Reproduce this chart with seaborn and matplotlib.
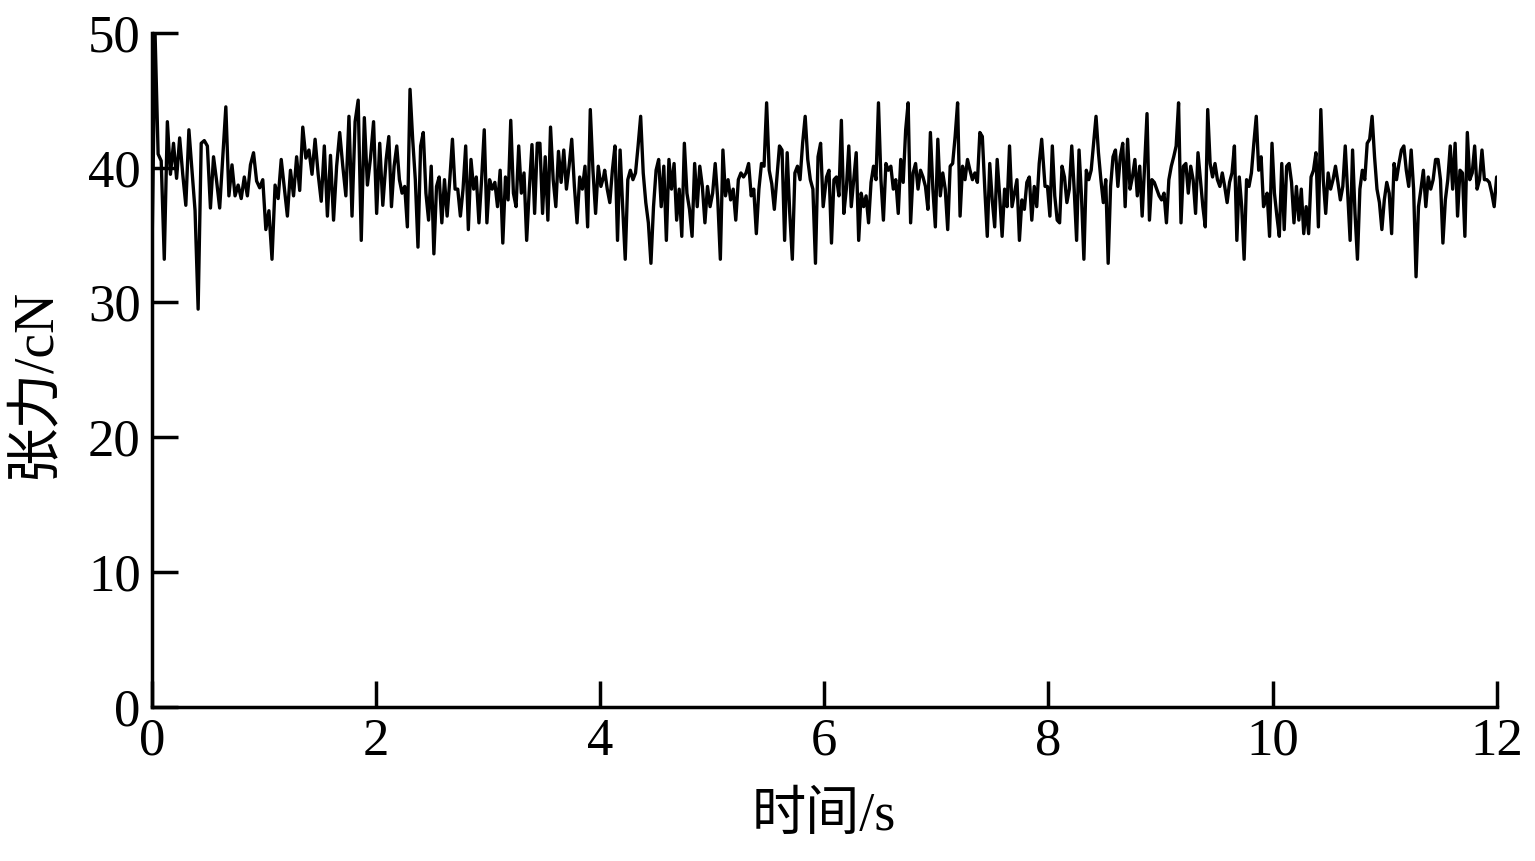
import numpy as np
import pandas as pd
import matplotlib
matplotlib.use("Agg")
import matplotlib.pyplot as plt
import seaborn as sns

# tension readings (cN) in six stretches of time
seg_start = [0.0, 2.09, 4.04, 6.02, 7.97, 9.93]
seg_end = [2.06, 4.03, 5.99, 7.94, 9.92, 12.0]

seg1 = [33.5, 50.0, 41.0, 40.5, 33.2, 43.4, 39.5, 41.8, 39.2, 42.2,
        39.5, 37.2, 42.8, 39.8, 36.8, 29.5, 41.8, 42.0, 41.6, 37.0,
        40.8, 39.0, 37.0, 40.7, 44.5, 37.9, 40.2, 37.9, 38.7, 37.7,
        39.3, 37.9, 40.2, 41.1, 39.0, 38.5, 39.1, 35.4, 36.8, 33.2,
        38.7, 37.7, 40.6, 38.5, 36.4, 39.8, 37.9, 40.8, 38.3, 43.0,
        40.7, 41.3, 39.5, 42.1, 39.5, 37.5, 41.6, 36.4, 40.9, 36.1,
        40.1, 42.6, 40.1, 37.9, 43.8, 36.4, 43.4, 45.0, 34.6, 43.7,
        38.7, 40.7, 43.4, 36.6, 41.8, 37.2]

seg2 = [40.6, 42.3, 37.1, 40.1, 41.6, 39.1, 38.1, 38.6, 35.6, 45.8,
        42.1, 39.1, 34.1, 41.6, 42.6, 38.1, 36.1, 40.1, 33.6, 38.6,
        39.3, 35.9, 39.1, 36.4, 39.1, 42.1, 38.4, 38.4, 36.4, 38.4,
        41.6, 35.4, 40.6, 38.4, 39.3, 35.9, 39.1, 42.8, 35.9, 39.1,
        38.4, 38.9, 37.1, 39.8, 34.4, 39.3, 37.6, 43.5, 38.1, 37.1,
        41.6, 38.1, 39.6, 34.6, 38.4, 41.7, 36.6, 41.8, 41.8, 36.6,
        40.8, 36.1, 43.0, 39.1, 37.1, 41.2, 38.9, 41.3, 38.4, 40.1,
        42.1, 38.6, 35.9, 39.3, 38.4, 40.1, 35.6, 44.3, 39.8, 36.6,
        40.1, 38.6, 39.3]

seg3 = [39.8, 38.4, 37.4, 39.8, 41.6, 34.6, 41.3, 37.1, 33.2, 39.1,
        39.8, 39.1, 39.6, 41.6, 43.8, 39.6, 37.4, 35.9, 32.9, 37.1,
        39.8, 40.6, 37.1, 40.1, 34.6, 40.6, 38.4, 40.3, 36.1, 38.4,
        34.9, 41.8, 38.1, 36.9, 34.9, 40.3, 37.1, 40.1, 38.6, 35.9,
        38.6, 37.1, 38.1, 40.3, 37.6, 33.2, 41.3, 37.9, 39.1, 37.6,
        38.4, 36.1, 39.1, 39.6, 39.3, 39.6, 40.3, 37.9, 38.4, 35.1,
        38.4, 40.3, 40.1, 44.8, 39.8, 38.8, 36.9, 39.3, 41.6, 41.3,
        34.6, 41.1, 36.6, 33.2, 39.6, 40.1, 39.1, 41.8, 43.8, 40.6,
        39.1, 38.4, 32.9, 40.8, 41.8, 37.1]

seg4 = [39.3, 39.8, 34.4, 39.1, 39.3, 37.9, 43.5, 36.6, 38.4, 41.6,
        37.1, 39.1, 41.1, 34.6, 38.1, 37.1, 37.9, 35.9, 38.9, 40.1,
        39.1, 44.8, 39.1, 36.1, 40.3, 39.8, 40.1, 38.4, 39.1, 36.6,
        40.6, 38.9, 42.8, 44.8, 35.9, 39.6, 40.3, 38.4, 39.8, 39.3,
        38.6, 36.9, 42.6, 38.4, 35.6, 42.1, 37.9, 39.6, 38.4, 35.4,
        40.1, 40.3, 42.3, 44.8, 36.4, 40.1, 39.1, 40.6, 39.8, 39.1,
        39.6, 38.9, 42.6, 42.3, 38.4, 34.9, 40.3, 37.6, 35.6, 40.6,
        37.9, 34.9, 38.4, 37.1, 41.6, 37.1, 38.1, 39.1, 34.6, 37.6,
        36.9, 38.9, 39.3, 36.1, 38.6, 37.1, 40.3, 42.1]

seg5 = [38.6, 38.6, 36.4, 41.6, 37.9, 36.1, 35.9, 40.1, 39.3, 37.4,
        38.4, 41.6, 38.4, 34.6, 41.3, 37.9, 33.2, 39.8, 39.1, 39.8,
        41.8, 43.8, 41.1, 39.1, 37.4, 39.1, 32.9, 38.6, 40.8, 41.3,
        38.6, 40.8, 41.8, 37.1, 42.1, 38.4, 39.3, 40.6, 37.9, 40.1,
        36.4, 40.1, 44.0, 36.1, 39.1, 38.9, 38.4, 37.9, 37.6, 38.1,
        35.9, 39.1, 40.1, 40.8, 41.6, 44.8, 35.9, 40.1, 40.3, 38.1,
        40.1, 39.1, 36.6, 41.1, 39.1, 37.1, 35.6, 44.3, 40.3, 39.3,
        40.3, 39.1, 38.6, 39.6, 38.6, 37.4, 38.9, 39.6, 41.6, 34.6,
        39.3, 37.1, 33.2, 39.1, 38.6, 39.6, 41.8, 43.8, 39.8, 40.8,
        37.1]

seg6 = [37.4, 38.1, 34.9, 41.8, 38.1, 36.4, 34.9, 40.3, 35.4, 40.1,
        40.3, 38.9, 35.9, 38.6, 36.1, 38.4, 35.1, 37.1, 35.1, 39.3,
        39.8, 41.1, 35.6, 44.3, 39.1, 36.6, 39.6, 38.4, 39.1, 40.1,
        38.9, 37.6, 38.6, 41.6, 38.1, 34.6, 41.3, 36.6, 33.2, 38.4,
        39.8, 39.1, 41.8, 42.1, 43.8, 40.8, 38.4, 37.4, 35.4, 37.6,
        38.9, 38.1, 35.1, 40.3, 39.1, 40.3, 41.3, 41.6, 39.8, 38.6,
        41.3, 38.4, 31.9, 37.1, 38.4, 39.8, 37.1, 39.3, 38.4, 39.1,
        40.6, 40.6, 39.1, 34.4, 37.6, 39.1, 41.6, 38.4, 41.8, 36.4,
        39.8, 39.6, 34.9, 42.6, 39.1, 39.6, 41.6, 38.4, 39.1, 41.3,
        39.1, 39.1, 38.9, 38.1, 37.1, 39.3]

x_ticks = [0, 2, 4, 6, 8, 10, 12]
y_ticks = [0, 10, 20, 30, 40, 50]

segs = [seg1, seg2, seg3, seg4, seg5, seg6]
frames = []
for s0, s1, vals in zip(seg_start, seg_end, segs):
    frames.append(pd.DataFrame({"t": np.linspace(s0, s1, len(vals)), "tension": vals}))
df = pd.concat(frames, ignore_index=True)

sns.set_style("ticks")
plt.rcParams['font.family'] = ['Liberation Serif', 'Noto Sans CJK SC', 'DejaVu Sans']

fig = plt.figure(figsize=(15.35, 8.61), dpi=100)
ax = fig.add_axes([0.099, 0.179, 0.876, 0.783])

sns.lineplot(data=df, x="t", y="tension", color="black", linewidth=2.4,
             estimator=None, sort=False, ax=ax)

ax.set_xlim(0, 12)
ax.set_ylim(0, 50)
ax.set_xticks(x_ticks)
ax.set_yticks(y_ticks)
ax.tick_params(direction="in", length=19, width=2.5, labelsize=38, pad=8,
               color="black", labelcolor="black")
sns.despine(ax=ax)
for sp in ["left", "bottom"]:
    ax.spines[sp].set_linewidth(2.5)
    ax.spines[sp].set_color("black")

ax.set_xlabel("时间/s", fontsize=39, color="black")
ax.set_ylabel("张力/cN", fontsize=40, color="black")
ax.xaxis.set_label_coords(0.5, -0.125)
ax.yaxis.set_label_coords(-0.068, 0.48)

fig.savefig("out.png", dpi=100)
